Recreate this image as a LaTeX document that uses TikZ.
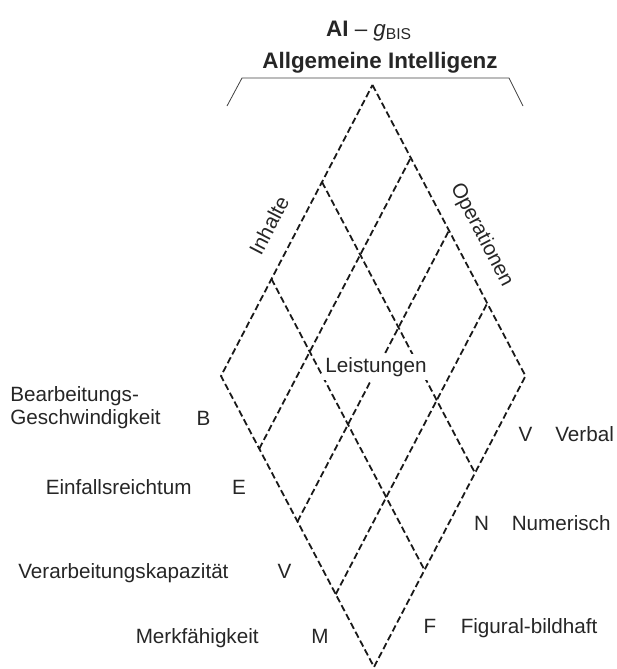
\documentclass[tikz,border=0pt]{standalone}
\usepackage{fontspec}
\setmainfont{Liberation Sans}
\usetikzlibrary{%
  calc,% wg. !x!
  positioning%
}

\begin{document}
\begin{tikzpicture}[x=0.75pt,y=-0.75pt,gridline/.style={
	dash pattern=on 5pt off 2.5pt,
	line width=1.35pt,
	draw=black!90
	},bracket/.style={
	line width=0.6pt,draw=black!75
	},txt/.style={
	inner sep=0pt,
	font=\fontsize{15.5}{17.3}\selectfont,
	text=black!85
	},title/.style={
	txt,font=\fontsize{16.8}{19}\selectfont\bfseries
	}
]

\useasboundingbox (0,0) rectangle (617,669);

% Raute
\coordinate (top) at (372.5,85);
\coordinate (left) at (221,376);
\coordinate (right) at (525.5,376);
\coordinate (bottom) at (374,667);

\draw[gridline] (top) -- (right) -- (bottom) -- (left) -- cycle;
\foreach \i in {1,2,3}
	\draw[gridline] ($(left)!\i/4!(bottom)$) -- ($(top)!\i/4!(right)$);
\foreach \j in {1,2}
	\draw[gridline] ($(top)!\j/3!(left)$) -- ($(right)!\j/3!(bottom)$);

% Kopf
\node (ai) [title,anchor=base] at (369,36) {AI \mdseries -- \textit{g}\textsubscript{BIS}};
\node (allg) [title,anchor=base] at (380,68.3) {Allgemeine Intelligenz};
\draw[bracket] (227,106) -- (242,78) -- (509,78) -- (523,106);

\node (inhalte) [txt,rotate=62.5] at (269,225.5) {Inhalte};
\node (operationen) [txt,rotate=-62.5] at (481.5,235) {Operationen};
\node (leistungen) [txt,anchor=base,fill=white,inner sep=2.5pt] at (376,372.7) {Leistungen};

% Operationen
\node (opB) [txt,anchor=base] at (203.5,425.5) {B};
\node (opE) [txt,anchor=base] at (239,494.3) {E};
\node (opV) [txt,anchor=base] at (284.5,578.3) {V};
\node (opM) [txt,anchor=base] at (320,643.3) {M};
\node (opBname) [txt,anchor=north west,align=left] at (10,386.5) {Bearbeitungs-\\Geschwindigkeit};
\node (opEname) [txt,anchor=base west] at (45.5,494.3) {Einfallsreichtum};
\node (opVname) [txt,anchor=base west] at (18,578.3) {Verarbeitungskapazität};
\node (opMname) [txt,anchor=base west] at (135.5,643.3) {Merkfähigkeit};

% Inhalte
\node (inV) [txt,anchor=base] at (525.5,441.7) {V};
\node (inN) [txt,anchor=base] at (481.5,530) {N};
\node (inF) [txt,anchor=base] at (430,633.3) {F};
\node (inVname) [txt,anchor=base west] at (555,441.7) {Verbal};
\node (inNname) [txt,anchor=base west] at (511.5,530) {Numerisch};
\node (inFname) [txt,anchor=base west] at (460.5,633.3) {Figural-bildhaft};

\end{tikzpicture}
\end{document}
